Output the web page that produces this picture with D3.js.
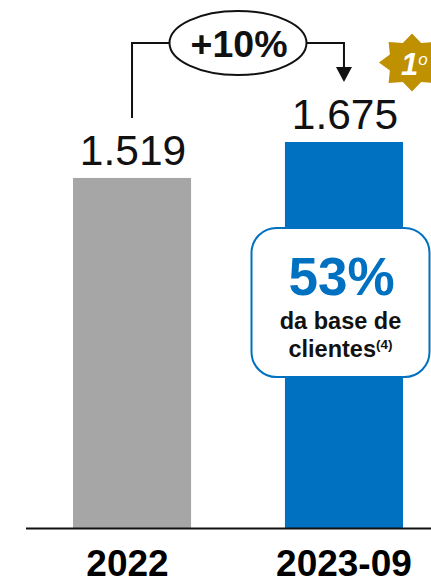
<!DOCTYPE html>
<html lang="en">
<head>
  <meta charset="UTF-8">
  <style>
    html, body { margin: 0; padding: 0; background: #fff; }
    svg { display: block; font-family: "Liberation Sans", Arial, sans-serif; }
  </style>
</head>
<body>
  <svg id="chart" width="431" height="578"></svg>
  <script src="https://d3js.org/d3.v7.min.js"></script>
  <script>
    const years = ["2022", "2023-09"];
    const values = [1519, 1675];
    const valueLabels = ["1.519", "1.675"];
    const barColors = ["#a6a6a6", "#0070c0"];
    const growthLabel = "+10%";
    const shareLabel = "53%";
    const shareText = ["da base de", "clientes"];
    const shareNote = "(4)";
    const rankLabel = "1";
    const rankSuffix = "o";

    const svg = d3.select("#chart");

    const x = d3.scaleBand().domain(years).range([73, 403]).paddingInner(0.443).paddingOuter(0);
    const y = d3.scaleLinear().domain([0, 1675]).range([528, 142]);

    // bars
    svg.append("g").selectAll("rect")
      .data(values)
      .enter()
      .append("rect")
      .attr("x", (d, i) => x(years[i]))
      .attr("y", d => y(d))
      .attr("width", x.bandwidth())
      .attr("height", d => y(0) - y(d))
      .attr("fill", (d, i) => barColors[i]);

    // baseline
    svg.append("line")
      .attr("x1", 26).attr("x2", 431)
      .attr("y1", y(0) + 0.5).attr("y2", y(0) + 0.5)
      .attr("stroke", "#111").attr("stroke-width", 2);

    // year labels, the first one sits a bit left of its bar in the original
    svg.append("g").selectAll("text")
      .data(years)
      .enter()
      .append("text")
      .attr("x", (d, i) => x(d) + x.bandwidth() / 2 - (i == 0 ? 4.5 : 0))
      .attr("y", 576)
      .attr("text-anchor", "middle")
      .attr("font-size", 37)
      .attr("font-weight", "bold")
      .attr("fill", "#000")
      .text(d => d);

    // value labels
    svg.append("g").selectAll("text")
      .data(values)
      .enter()
      .append("text")
      .attr("x", (d, i) => x(years[i]) + x.bandwidth() / 2 + 1)
      .attr("y", d => y(d) - 13)
      .attr("text-anchor", "middle")
      .attr("font-size", 42.5)
      .attr("fill", "#111")
      .text((d, i) => valueLabels[i]);

    // growth connector
    const cx0 = x(years[0]) + x.bandwidth() / 2;
    const cx1 = x(years[1]) + x.bandwidth() / 2;
    const arrowY = 43;
    svg.append("path")
      .attr("d", d3.line()([[cx0, y(values[0]) - 60], [cx0, arrowY], [cx1, arrowY], [cx1, 70]]))
      .attr("fill", "none").attr("stroke", "#111").attr("stroke-width", 2);
    svg.append("path")
      .attr("d", d3.line()([[cx1 - 8, 67], [cx1 + 8, 67], [cx1, 82]]) + "Z")
      .attr("fill", "#111");

    svg.append("ellipse")
      .attr("cx", 238).attr("cy", 43).attr("rx", 68.5).attr("ry", 32)
      .attr("fill", "#fff").attr("stroke", "#111").attr("stroke-width", 2);
    svg.append("text")
      .attr("x", 239).attr("y", 57)
      .attr("text-anchor", "middle")
      .attr("font-size", 37.5).attr("font-weight", "bold").attr("fill", "#111")
      .text(growthLabel);

    // rank badge, 8 point star
    const badgeR = d3.range(16).map(i => [i * Math.PI / 8, i % 2 ? 21 : 29]);
    svg.append("path")
      .attr("transform", "translate(412,62.5) scale(1.14,1)")
      .attr("d", d3.lineRadial().curve(d3.curveLinearClosed)(badgeR))
      .attr("fill", "#bf9000");
    const rank = svg.append("text")
      .attr("x", 401).attr("y", 75)
      .attr("font-size", 31).attr("font-style", "italic").attr("font-weight", "bold")
      .attr("fill", "#fff")
      .text(rankLabel);
    rank.append("tspan").attr("font-size", 17).attr("font-weight", "normal").attr("dy", -10).text(rankSuffix);

    // share callout
    svg.append("rect")
      .attr("x", 251.5).attr("y", 228).attr("width", 178).attr("height", 149)
      .attr("rx", 25)
      .attr("fill", "#fff").attr("stroke", "#0070c0").attr("stroke-width", 2);
    svg.append("text")
      .attr("x", 341.5).attr("y", 295)
      .attr("text-anchor", "middle")
      .attr("font-size", 53).attr("font-weight", "bold").attr("fill", "#0070c0")
      .text(shareLabel);
    svg.append("text")
      .attr("x", 340.5).attr("y", 329)
      .attr("text-anchor", "middle")
      .attr("font-size", 23.5).attr("font-weight", "bold").attr("fill", "#111")
      .text(shareText[0]);
    const second = svg.append("text")
      .attr("x", 340.5).attr("y", 357)
      .attr("text-anchor", "middle")
      .attr("font-size", 23.5).attr("font-weight", "bold").attr("fill", "#111")
      .text(shareText[1]);
    second.append("tspan").attr("font-size", 13.5).attr("dy", -8).text(shareNote);
  </script>
</body>
</html>
